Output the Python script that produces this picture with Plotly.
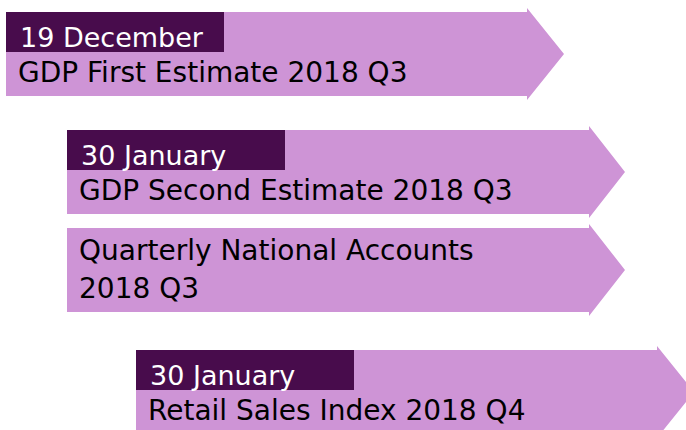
import plotly.graph_objects as go

# ---- content ----
dates = ["19 December", "30 January", None, "30 January"]
titles = [
    ["GDP First Estimate 2018 Q3"],
    ["GDP Second Estimate 2018 Q3"],
    ["Quarterly National Accounts", "2018 Q3"],
    ["Retail Sales Index 2018 Q4"],
]

# ---- layout geometry (pixels in a 686x430 canvas) ----
arrow_left = [6, 67, 67, 136]
arrow_top = [12, 130, 228, 350]
body_right = [527, 589, 589, 657]
tip_x = [564, 625, 625, 694]
BODY_H = 84
HEAD_OVER = 4
DATE_W = 218
DATE_H = 40

LIGHT = "#CE94D6"
DARK = "#480C4C"
FONT = "DejaVu Sans, sans-serif"
FS_DATE = 27
FS_TITLE = 28

W, H = 686, 430
fig = go.Figure()
fig.add_trace(go.Scatter(x=[0, W], y=[0, H], mode="markers",
                         marker=dict(opacity=0), hoverinfo="skip", showlegend=False))

shapes = []
annotations = []


def baseline_to_center(b, fs):
    return b - 0.346 * fs


for i in range(len(titles)):
    L, T, R, X = arrow_left[i], arrow_top[i], body_right[i], tip_x[i]
    B = T + BODY_H
    M = (T + B) / 2
    path = (f"M {L},{T} L {R},{T} L {R},{T - HEAD_OVER} L {X},{M} "
            f"L {R},{B + HEAD_OVER} L {R},{B} L {L},{B} Z")
    shapes.append(dict(type="path", path=path, xref="x", yref="y",
                       fillcolor=LIGHT, line=dict(width=0), layer="below"))
    if dates[i]:
        shapes.append(dict(type="rect", xref="x", yref="y", x0=L, x1=L + DATE_W,
                           y0=T, y1=T + DATE_H, fillcolor=DARK, line=dict(width=0),
                           layer="below"))
        annotations.append(dict(x=L + 12, y=baseline_to_center(T + 35, FS_DATE),
                                xref="x", yref="y",
                                text=dates[i], showarrow=False, xanchor="left",
                                yanchor="middle",
                                font=dict(family=FONT, size=FS_DATE, color="white")))
    lines = titles[i]
    if len(lines) == 1:
        bases = [T + 70]
    else:
        bases = [T + 32, T + 70]
    for txt, b in zip(lines, bases):
        annotations.append(dict(x=L + 10, y=baseline_to_center(b, FS_TITLE),
                                xref="x", yref="y",
                                text=txt, showarrow=False, xanchor="left",
                                yanchor="middle",
                                font=dict(family=FONT, size=FS_TITLE, color="black")))

fig.update_layout(
    width=W, height=H,
    margin=dict(l=0, r=0, t=0, b=0),
    paper_bgcolor="white", plot_bgcolor="white",
    xaxis=dict(range=[0, W], visible=False, fixedrange=True),
    yaxis=dict(range=[H, 0], visible=False, fixedrange=True),
    shapes=shapes, annotations=annotations,
    showlegend=False,
)

fig.write_html(
    "out.html",
    config={"displayModeBar": False, "staticPlot": True},
    post_script="document.body.style.margin='0';"
                "document.documentElement.style.overflow='hidden';",
)
